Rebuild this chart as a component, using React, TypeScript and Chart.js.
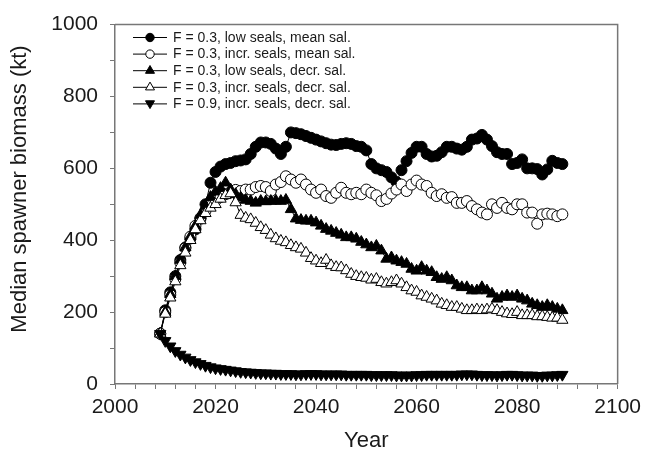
import React, { useEffect, useRef } from 'react';
import { Chart, registerables } from 'chart.js';
import { drawPoint } from 'chart.js/helpers';

Chart.register(...registerables);

const startYear = 2009;

const lowSealsMean = [
  140, 205, 255, 300, 345, 380, 405, 430, 460, 500,
  560, 590, 605, 612, 615, 620, 622, 625, 640, 660,
  672, 672, 668, 655, 640, 660, 700, 698, 695, 690,
  685, 680, 675, 670, 666, 665, 668, 670, 668, 662,
  660, 650, 612, 600, 595, 590, 575, 562, 595, 620,
  643, 660, 660, 640, 633, 635, 645, 660, 660, 655,
  652, 660, 680, 683, 693, 680, 662, 645, 640, 640,
  612, 615, 625, 600, 600, 598, 583, 597, 621, 615,
  612,
];

const incrSealsMean = [
  140, 200, 248, 292, 338, 378, 410, 440, 462, 482,
  498, 510, 520, 528, 535, 540, 537, 541, 541, 548,
  551, 548, 537, 555, 562, 578, 569, 560, 569, 555,
  541, 532, 541, 523, 518, 532, 546, 532, 528, 532,
  528, 541, 532, 525, 509, 515, 530, 541, 555, 537,
  555, 566, 555, 551, 532, 523, 528, 518, 520, 504,
  504, 509, 495, 486, 477, 472, 500, 490, 504, 490,
  486, 500, 500, 477, 477, 446, 472, 474, 472, 467,
  472,
];

const lowSealsDecr = [
  140, 200, 250, 300, 345, 380, 410, 440, 470, 495,
  520, 535, 545, 560, 541, 528, 518, 512, 509, 504,
  509, 508, 509, 510, 509, 512, 486, 460, 456, 454,
  454, 449, 440, 431, 426, 420, 415, 408, 408, 404,
  395, 388, 380, 384, 371, 348, 352, 343, 339, 334,
  320, 315, 325, 315, 311, 297, 292, 297, 288, 274,
  269, 269, 260, 260, 269, 260, 251, 237, 242, 246,
  242, 246, 237, 232, 223, 219, 214, 219, 214, 209,
  205,
];

const incrSealsDecr = [
  140, 195, 240, 285, 330, 365, 400, 430, 455, 475,
  490, 500, 515, 525, 530, 505, 470, 462, 458, 448,
  436, 428, 415, 405, 398, 394, 386, 380, 376, 365,
  350, 343, 336, 345, 330, 325, 324, 316, 306, 300,
  297, 295, 290, 292, 283, 279, 283, 288, 279, 269,
  260, 256, 246, 242, 237, 232, 223, 219, 214, 214,
  209, 205, 205, 207, 205, 207, 209, 205, 200, 196,
  194, 200, 191, 191, 191, 188, 188, 186, 184, 184,
  178,
];

const highFIncrDecr = [
  140, 120, 105, 92, 82, 74, 67, 61, 56, 51,
  47, 44, 42, 40, 38, 36, 34, 33, 32, 31,
  30, 30, 29, 29, 28, 28, 28, 27, 27, 28,
  28, 28, 27, 27, 27, 27, 27, 26, 26, 26,
  26, 26, 25, 25, 25, 25, 25, 24, 24, 24,
  24, 25, 25, 26, 26, 26, 26, 26, 26, 26,
  27, 27, 27, 26, 25, 25, 25, 24, 25, 26,
  26, 25, 24, 24, 24, 23, 23, 24, 24, 25,
  26,
];

const seriesLabels = [
  'F = 0.3, low seals, mean sal.',
  'F = 0.3, incr. seals, mean sal.',
  'F = 0.3, low seals, decr. sal.',
  'F = 0.3, incr. seals, decr. sal.',
  'F = 0.9, incr. seals, decr. sal.',
];

const xTitle = 'Year';
const yTitle = 'Median spawner biomass (kt)';

const FONT = "'Liberation Sans', Arial, sans-serif";
const TEXT = '#1a1a1a';
const AXIS = '#777777';

type Style = { pointStyle: string; rotation: number; fill: string; radius: number };
const styles: Style[] = [
  { pointStyle: 'circle', rotation: 0, fill: '#000000', radius: 5.5 },
  { pointStyle: 'circle', rotation: 0, fill: '#ffffff', radius: 5.5 },
  { pointStyle: 'triangle', rotation: 0, fill: '#000000', radius: 6.5 },
  { pointStyle: 'triangle', rotation: 0, fill: '#ffffff', radius: 6.5 },
  { pointStyle: 'triangle', rotation: 180, fill: '#000000', radius: 6.5 },
];

const extrasPlugin = {
  id: 'extras',
  afterDraw(chart: any) {
    const { ctx, chartArea } = chart;
    const { left, right, top, bottom } = chartArea;
    ctx.save();
    ctx.strokeStyle = AXIS;
    ctx.lineWidth = 1.5;
    ctx.beginPath();
    ctx.moveTo(left, top);
    ctx.lineTo(right, top);
    ctx.lineTo(right, bottom);
    ctx.stroke();

    ctx.save();
    ctx.translate(20, 189);
    ctx.rotate(-Math.PI / 2);
    ctx.font = `22px ${FONT}`;
    ctx.fillStyle = TEXT;
    ctx.textAlign = 'center';
    ctx.textBaseline = 'middle';
    ctx.fillText(yTitle, 0, 0);
    ctx.restore();

    const x0 = 133;
    const x1 = 167;
    const xm = 150;
    const y0 = 37.5;
    const dy = 16.6;
    ctx.font = `14px ${FONT}`;
    ctx.textAlign = 'left';
    ctx.textBaseline = 'middle';
    seriesLabels.forEach((lab, i) => {
      const y = y0 + i * dy;
      ctx.strokeStyle = '#000';
      ctx.lineWidth = 1;
      ctx.beginPath();
      ctx.moveTo(x0, y);
      ctx.lineTo(x1, y);
      ctx.stroke();
      const s = styles[i];
      ctx.fillStyle = s.fill;
      ctx.strokeStyle = '#000';
      ctx.lineWidth = 1;
      drawPoint(ctx, {
        pointStyle: s.pointStyle as any,
        rotation: s.rotation,
        radius: s.radius - 1.3,
        borderWidth: 1,
      }, xm, s.rotation ? y - 0.5 : y);
      ctx.fillStyle = TEXT;
      ctx.fillText(lab, 173, y + 0.5);
    });
    ctx.restore();
  },
};

export default function App() {
  const ref = useRef<HTMLCanvasElement | null>(null);

  useEffect(() => {
    if (!ref.current) return;
    const all = [lowSealsMean, incrSealsMean, lowSealsDecr, incrSealsDecr, highFIncrDecr];
    const datasets = all.map((vals, i) => ({
      label: seriesLabels[i],
      data: vals.map((v, k) => ({ x: startYear + k, y: v })),
      borderColor: '#000000',
      borderWidth: 1,
      backgroundColor: styles[i].fill,
      pointStyle: styles[i].pointStyle as any,
      rotation: styles[i].rotation,
      pointRadius: styles[i].radius,
      pointBackgroundColor: styles[i].fill,
      pointBorderColor: '#000000',
      pointBorderWidth: 1,
      fill: false,
      tension: 0,
      order: 4 - i,
    }));

    const chart = new Chart(ref.current, {
      type: 'line',
      data: { datasets },
      plugins: [extrasPlugin],
      options: {
        animation: false,
        responsive: true,
        maintainAspectRatio: false,
        layout: { padding: { left: 0, right: 28, top: 22, bottom: 0 } },
        plugins: { legend: { display: false }, tooltip: { enabled: false } },
        scales: {
          x: {
            type: 'linear',
            min: 2000,
            max: 2100,
            afterFit: (s: any) => { s.height = 77; },
            ticks: {
              stepSize: 4,
              autoSkip: false,
              maxRotation: 0,
              padding: 6,
              color: TEXT,
              font: { family: FONT, size: 21 },
              callback: (v: any) => (Number(v) % 20 === 0 ? String(v) : ''),
            },
            grid: { drawOnChartArea: false, drawTicks: true, tickLength: 5, color: AXIS },
            border: { display: true, color: AXIS, width: 1.5 },
            title: {
              display: true,
              text: xTitle,
              color: TEXT,
              font: { family: FONT, size: 22 },
              padding: { top: 0, bottom: 7 },
            },
          },
          y: {
            type: 'linear',
            min: 0,
            max: 1000,
            afterFit: (s: any) => { s.width = 115; },
            ticks: {
              stepSize: 100,
              autoSkip: false,
              padding: 12,
              color: TEXT,
              font: { family: FONT, size: 21 },
              callback: (v: any) => (Number(v) % 200 === 0 ? String(v) : ''),
            },
            grid: { drawOnChartArea: false, drawTicks: true, tickLength: 5, color: AXIS },
            border: { display: true, color: AXIS, width: 1.5 },
          },
        },
      },
    });
    return () => chart.destroy();
  }, []);

  return (
    <div style={{ position: 'absolute', left: 0, top: 0, width: 647, height: 461, background: '#fff' }}>
      <canvas ref={ref} />
    </div>
  );
}
